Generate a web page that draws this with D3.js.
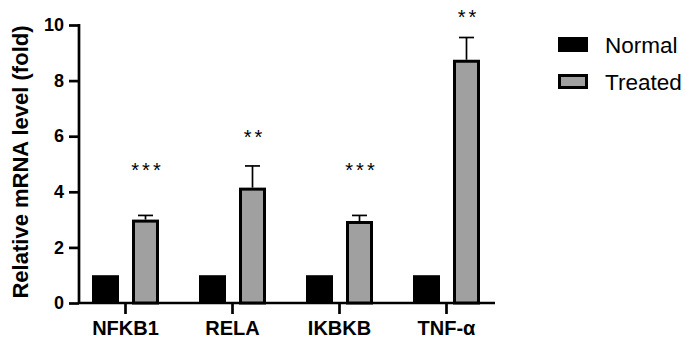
<!DOCTYPE html>
<html lang="en">
<head>
    <meta charset="UTF-8">
    <title>Relative mRNA level</title>
    <style>
        body { margin: 0; background: #fff; }
        text { font-family: "Liberation Sans", Arial, sans-serif; }
        .axis path, .axis line { stroke: #000; stroke-width: 2.7px; }
        .axis text { font-weight: bold; fill: #000; font-family: "Liberation Sans", Arial, sans-serif; }
        .y.axis text { font-size: 18px; }
        .x.axis text { font-size: 20px; }
    </style>
    <script src="https://d3js.org/d3.v7.min.js"></script>
</head>
<body>
    <svg width="685" height="345"></svg>
    <script>
        // Chart data
        const genes = ["NFKB1", "RELA", "IKBKB", "TNF-\u03b1"];
        const normal = [1, 1, 1, 1];
        const treated = [3.0, 4.15, 2.95, 8.75];
        const treatedErr = [0.15, 0.78, 0.2, 0.8];
        const stars = ["***", "**", "***", "**"];
        const starLevel = [4.57, 5.76, 4.57, 10.07];
        const yTicks = [0, 2, 4, 6, 8, 10];

        const svg = d3.select("svg");
        const axLeft = 79, axRight = 495, axTop = 25, axBottom = 303;

        const x = d3.scaleBand().domain(genes).range([72, 500]).padding(0);
        const y = d3.scaleLinear().domain([0, 10]).range([axBottom, axTop]);

        const barW = 27, offset = 20;

        // y axis
        svg.append("g")
            .attr("class", "y axis")
            .attr("transform", `translate(${axLeft},0)`)
            .call(d3.axisLeft(y).tickValues(yTicks).tickSize(10).tickSizeOuter(0).tickPadding(5))
            .call(g => g.select(".domain").attr("d", `M0,${axBottom}V${axTop - 1}`));

        // x axis
        svg.append("g")
            .attr("class", "x axis")
            .attr("transform", `translate(0,${axBottom})`)
            .call(d3.axisBottom(x).tickSize(11).tickSizeOuter(0).tickPadding(7))
            .call(g => g.select(".domain").attr("d", `M${axLeft},0H${axRight}`));

        // Normal bars
        svg.append("g").selectAll("rect")
            .data(genes)
            .join("rect")
            .attr("x", d => x(d) + x.bandwidth() / 2 - offset - barW / 2)
            .attr("y", (d, i) => y(normal[i]))
            .attr("width", barW)
            .attr("height", (d, i) => axBottom - y(normal[i]))
            .attr("fill", "#000");

        // Treated bars
        svg.append("g").selectAll("rect")
            .data(genes)
            .join("rect")
            .attr("x", d => x(d) + x.bandwidth() / 2 + offset - barW / 2 + 1.5)
            .attr("y", (d, i) => y(treated[i]) + 1.5)
            .attr("width", barW - 3)
            .attr("height", (d, i) => axBottom - y(treated[i]) - 1.5)
            .attr("fill", "#a0a0a0")
            .attr("stroke", "#000")
            .attr("stroke-width", 3);

        // Error bars (upper only)
        const err = svg.append("g").attr("stroke", "#000").attr("stroke-width", 1.7);
        genes.forEach((g, i) => {
            const cx = x(g) + x.bandwidth() / 2 + offset;
            err.append("line")
                .attr("x1", cx).attr("x2", cx)
                .attr("y1", y(treated[i])).attr("y2", y(treated[i] + treatedErr[i]));
            err.append("line")
                .attr("x1", cx - 7.5).attr("x2", cx + 7.5)
                .attr("y1", y(treated[i] + treatedErr[i])).attr("y2", y(treated[i] + treatedErr[i]));
        });

        // Significance stars
        svg.append("g").selectAll("text")
            .data(genes)
            .join("text")
            .attr("x", d => x(d) + x.bandwidth() / 2 + offset + 2)
            .attr("y", (d, i) => y(starLevel[i]) + 1)
            .attr("text-anchor", "middle")
            .attr("font-size", 20)
            .attr("letter-spacing", 3)
            .text((d, i) => stars[i]);

        // y axis title
        svg.append("text")
            .attr("transform", `translate(28,${162}) rotate(-90)`)
            .attr("text-anchor", "middle")
            .attr("font-size", 22)
            .attr("font-weight", "bold")
            .text("Relative mRNA level (fold)");

        // Legend
        const legend = [
            { name: "Normal", fill: "#000" },
            { name: "Treated", fill: "#a0a0a0" }
        ];
        const lg = svg.append("g").selectAll("g")
            .data(legend)
            .join("g")
            .attr("transform", (d, i) => `translate(558,${37 + i * 37})`);
        lg.append("rect")
            .attr("x", 1.5).attr("y", 1.5)
            .attr("width", 27).attr("height", 12)
            .attr("fill", d => d.fill)
            .attr("stroke", "#000")
            .attr("stroke-width", 3);
        lg.append("text")
            .attr("x", 47)
            .attr("y", 15.5)
            .attr("font-size", 22.5)
            .text(d => d.name);
    </script>
</body>
</html>
